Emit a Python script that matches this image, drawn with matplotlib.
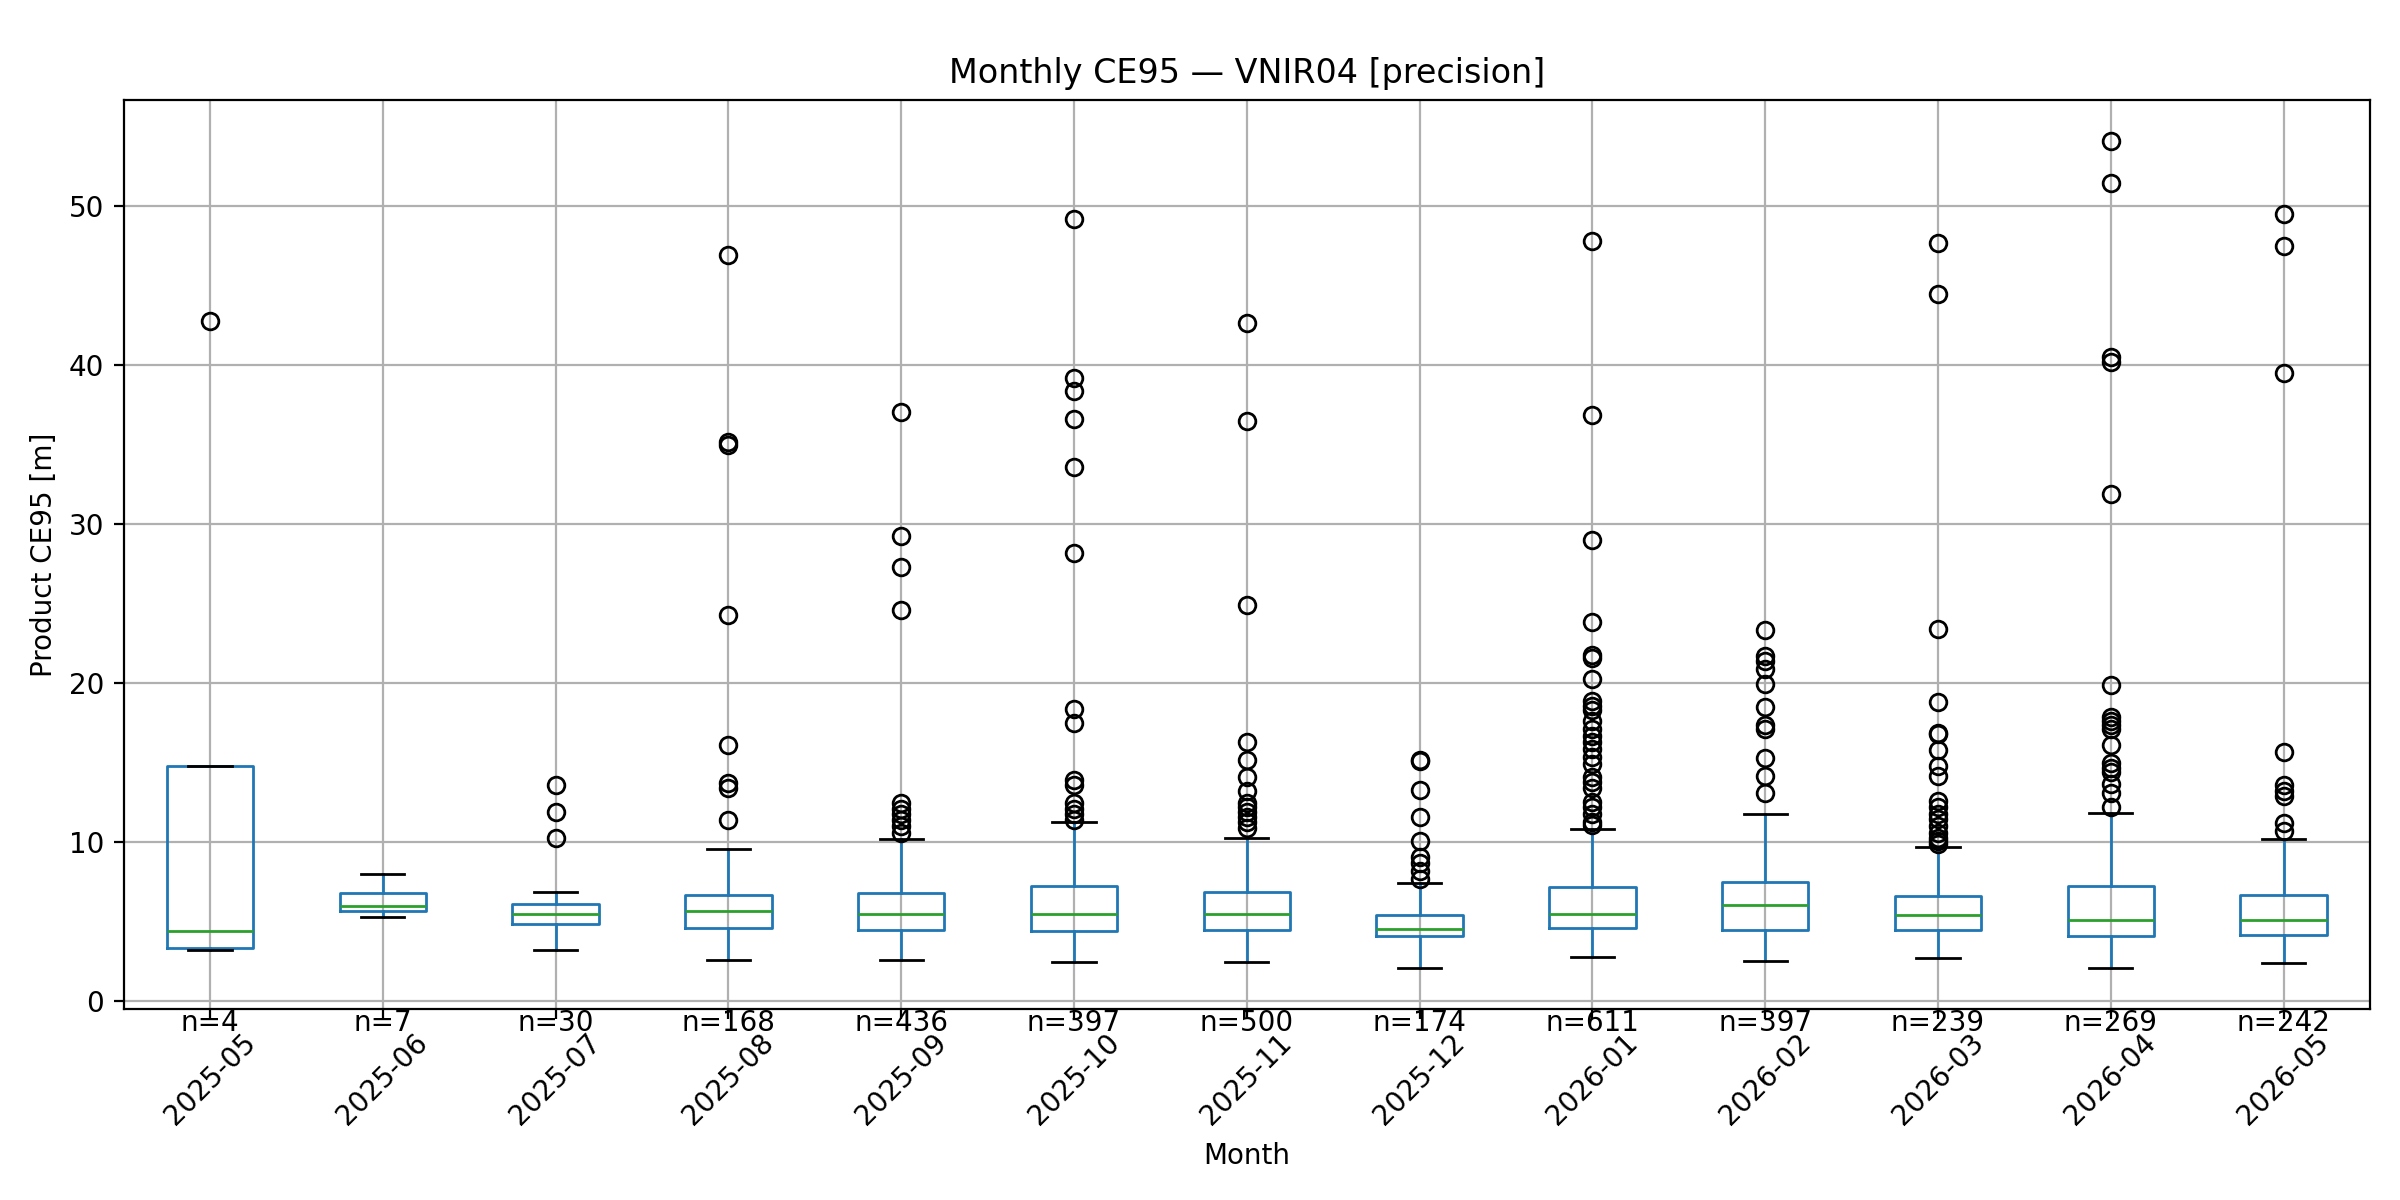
import matplotlib
matplotlib.use("Agg")
import matplotlib.pyplot as plt

months = ["2025-05", "2025-06", "2025-07", "2025-08", "2025-09", "2025-10", "2025-11",
          "2025-12", "2026-01", "2026-02", "2026-03", "2026-04", "2026-05"]
counts = [4, 7, 30, 168, 436, 397, 500, 174, 611, 397, 239, 269, 242]

whisker_low = [3.25, 5.27, 3.25, 2.6, 2.6, 2.45, 2.5, 2.1, 2.8, 2.56, 2.74, 2.1, 2.38]
q1 = [3.36, 5.70, 4.87, 4.62, 4.51, 4.44, 4.48, 4.08, 4.62, 4.48, 4.48, 4.08, 4.19]
median = [4.44, 5.99, 5.52, 5.70, 5.52, 5.52, 5.52, 4.55, 5.52, 6.06, 5.40, 5.09, 5.09]
q3 = [14.8, 6.79, 6.10, 6.68, 6.79, 7.26, 6.90, 5.45, 7.18, 7.50, 6.60, 7.26, 6.68]
whisker_high = [14.8, 8.01, 6.90, 9.60, 10.2, 11.3, 10.3, 7.44, 10.85, 11.8, 9.73, 11.87, 10.2]

fliers = [
    [42.8],
    [],
    [13.6, 11.9, 10.3],
    [46.97, 35.2, 35.0, 24.3, 16.1, 13.75, 13.4, 11.4],
    [37.1, 29.3, 27.3, 24.6, 12.5, 12.1, 11.8, 11.4, 11.0, 10.6],
    [49.2, 39.2, 38.4, 36.6, 33.6, 28.2, 18.4, 17.5, 13.9, 13.6, 12.5, 12.1, 11.8, 11.4],
    [42.7, 36.5, 24.9, 16.3, 15.2, 14.1, 13.2, 12.5, 12.2, 11.9, 11.6, 11.3, 10.9],
    [15.2, 15.1, 13.3, 11.6, 10.1, 9.1, 8.7, 8.2, 7.7],
    [47.8, 36.9, 29.0, 23.86, 21.8, 21.6, 20.25, 18.9, 18.6, 18.3, 17.6, 17.15, 16.7,
     16.3, 15.9, 15.35, 14.9, 14.1, 13.8, 13.4, 12.55, 12.2, 11.8, 11.28, 11.07],
    [23.33, 21.7, 21.4, 20.9, 19.94, 18.53, 17.36, 17.1, 15.33, 14.2, 13.1],
    [47.7, 44.5, 23.4, 18.8, 16.9, 16.8, 15.8, 14.8, 14.2, 12.6, 12.2, 11.76, 11.45,
     11.0, 10.6, 10.3, 10.1, 9.9],
    [54.1, 51.5, 40.5, 40.2, 31.9, 19.87, 17.9, 17.6, 17.36, 17.1, 16.1, 15.0, 14.7,
     14.4, 13.65, 13.1, 12.2],
    [49.5, 47.5, 39.5, 15.7, 13.6, 13.2, 12.9, 11.2, 10.7],
]

title = "Monthly CE95 \u2014 VNIR04 [precision]"
ylabel = "Product CE95 [m]"
xlabel = "Month"

stats = []
for i, m in enumerate(months):
    stats.append(dict(label=m, whislo=whisker_low[i], q1=q1[i], med=median[i],
                      q3=q3[i], whishi=whisker_high[i], fliers=fliers[i]))

fig, ax = plt.subplots(figsize=(12, 6), dpi=200)
fig.subplots_adjust(left=0.0515, right=0.9875, top=0.9167, bottom=0.159)

positions = list(range(1, len(months) + 1))
ax.bxp(stats, positions=positions, widths=0.5,
       boxprops=dict(color="C0"), whiskerprops=dict(color="C0"),
       medianprops=dict(color="C2"), capprops=dict(color="k"),
       flierprops=dict(marker="o", markerfacecolor="none", markeredgecolor="k"))
ax.grid(True)
ax.set_xticks(positions)
ax.set_xticklabels(months, rotation=45)
ax.set_title(title)
ax.set_ylabel(ylabel)
ax.set_xlabel(xlabel)

ymin = ax.get_ylim()[0]
for p, n in zip(positions, counts):
    ax.text(p, ymin, f"n={n}", ha="center", va="top", fontsize=10)

fig.savefig("out.png", dpi=200)
